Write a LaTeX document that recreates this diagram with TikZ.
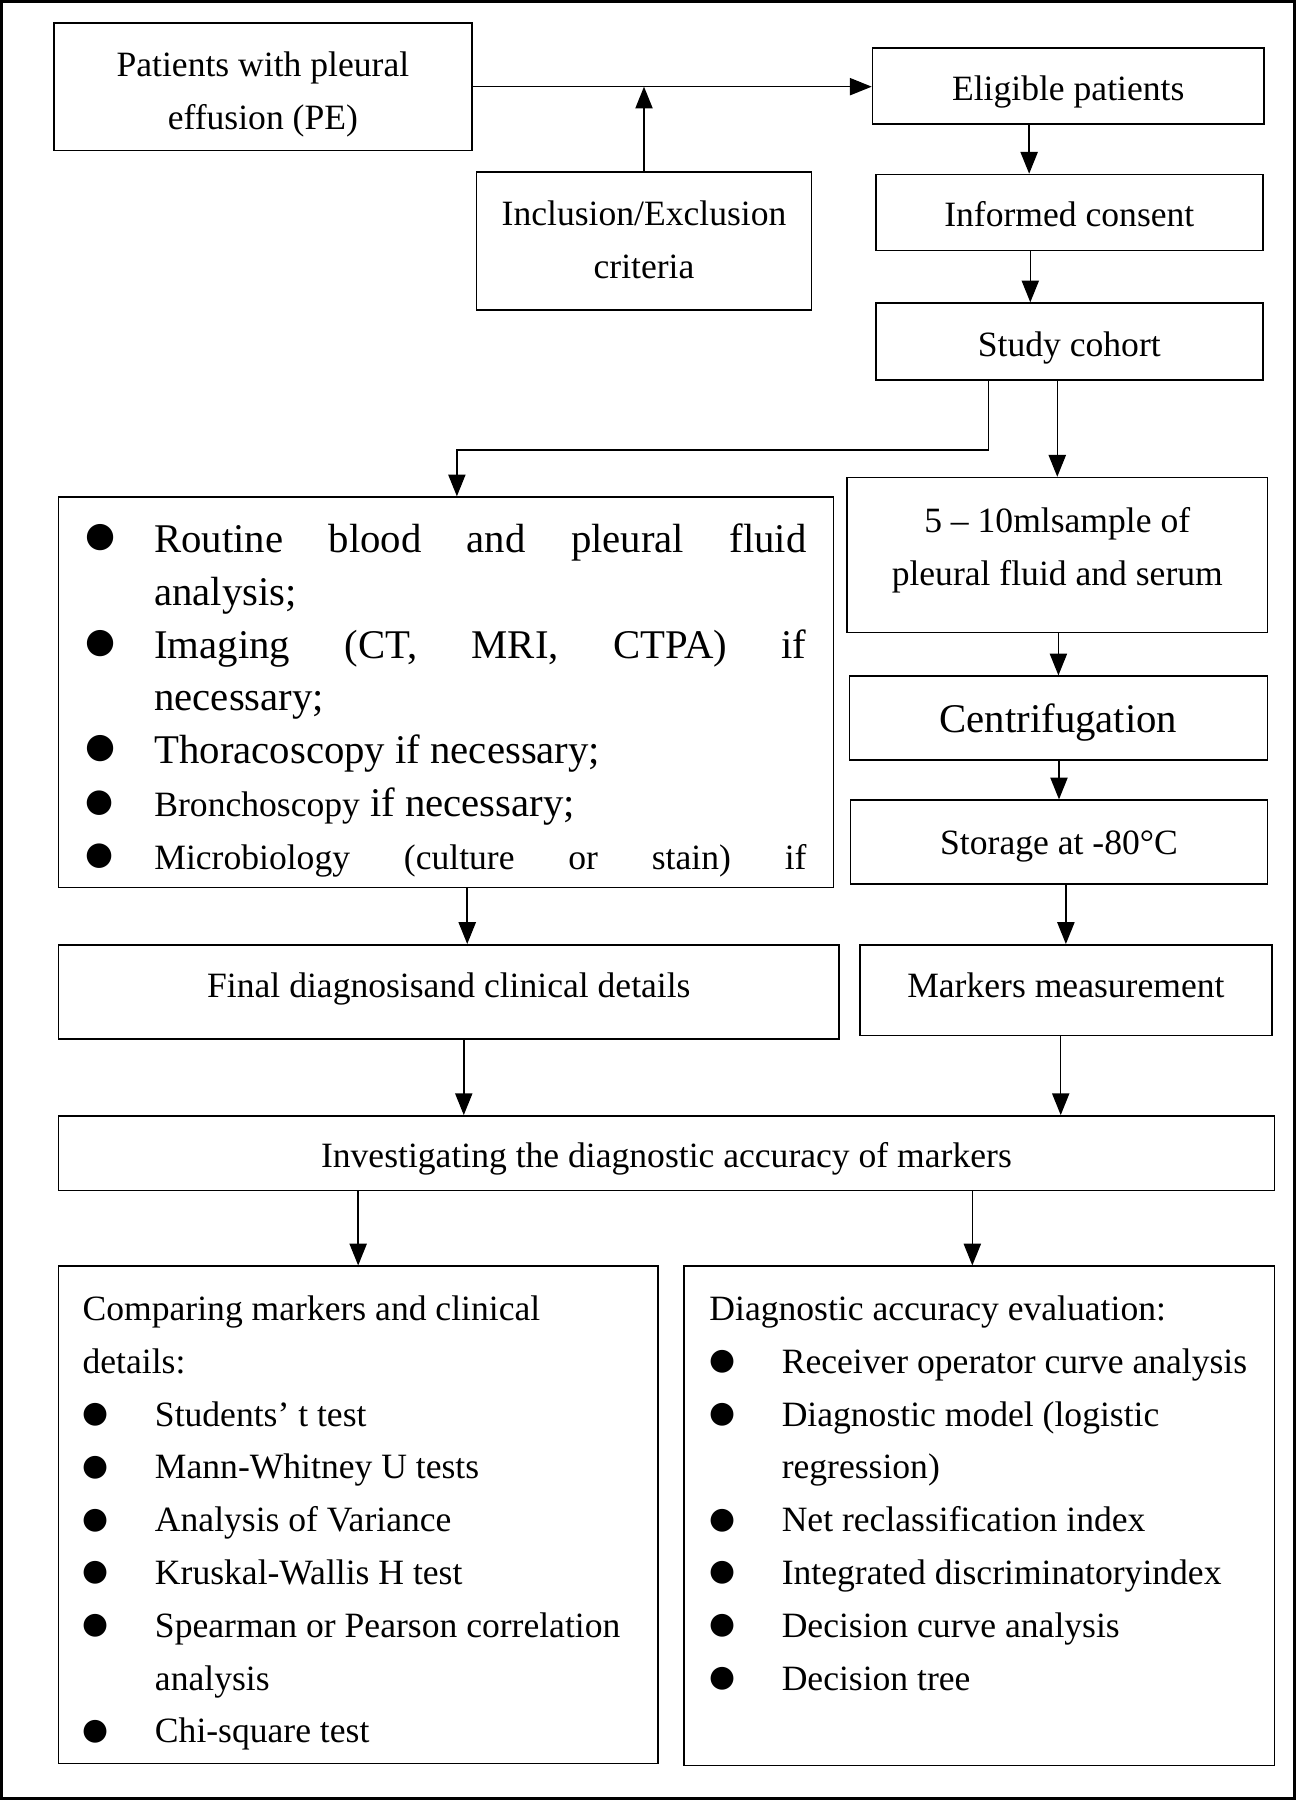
\documentclass[tikz,border=0pt]{standalone}
\usepackage{fontspec}
\setmainfont{Liberation Serif}
\newfontfamily\symfont{DejaVu Sans}
\usetikzlibrary{arrows.meta}
\newcommand{\normsz}{\fontsize{31}{46}\selectfont}
\newcommand{\bigsz}{\fontsize{35.5}{46}\selectfont}
\newcommand{\bulglyph}[2]{\raisebox{#2}{\symfont\fontsize{#1}{#1}\selectfont ●}}
\newcommand{\bitem}[4]{\par\noindent\hangindent=#1\hangafter=1\makebox[#1][l]{\bulglyph{#2}{#3}}\strut#4\par}
\begin{document}
\begin{tikzpicture}[x=1pt,y=-1pt,
  box/.style={draw, line width=1.3pt, inner sep=0pt},
  tb/.style={text height=30pt, text depth=#1},
  arr/.style={line width=1.3pt, -{Triangle[length=19pt,width=15pt]}},
  every node/.style={font=\normsz}]
\useasboundingbox (0,0) rectangle (1129,1568);
\draw[line width=2.6pt] (1.5,1.5) rectangle (1127.5,1566.5);

\node[box, minimum width=364pt, minimum height=111pt] (pat) at (229,75.5) {};
\node[align=center] (pattext) at (229,82) {Patients with pleural\\effusion (PE)};
\node[box, minimum width=341pt, minimum height=66pt, tb=5.4pt] (elig) at (930.5,75) {Eligible patients};
\node[box, minimum width=292pt, minimum height=120pt] (inc) at (561,210) {};
\node[align=center] (inctext) at (561,209) {Inclusion/Exclusion\\criteria};
\node[box, minimum width=337pt, minimum height=66pt, tb=5.4pt] (cons) at (931.5,185) {Informed consent};
\node[box, minimum width=337pt, minimum height=67pt, tb=4.4pt] (study) at (931.5,297.5) {Study cohort};

\node[box, minimum width=675pt, minimum height=340pt] (bl) at (388.5,603) {\parbox[c][308pt][t]{628pt}{\bigsz\frenchspacing\hyphenpenalty=10000\exhyphenpenalty=10000\tolerance=10000\spaceskip=8.875pt plus 60pt minus 2pt
\bitem{60pt}{30}{5pt}{Routine blood and pleural fluid analysis;}
\bitem{60pt}{30}{5pt}{\makebox[568pt][s]{Imaging (CT, MRI, CTPA) if}\newline necessary;}
\bitem{60pt}{30}{5pt}{Thoracoscopy if necessary;}
\bitem{60pt}{28}{4pt}{{\normsz Bronchoscopy} if necessary;}
\bitem{60pt}{28}{4pt}{\makebox[568pt][s]{\normsz Microbiology (culture or stain) if}}}};

\node[box, minimum width=366pt, minimum height=135pt] (sample) at (921,483.5) {};
\node[align=center] (sampletext) at (921,479.5) {5 – 10mlsample of\\pleural fluid and serum};
\node[box, minimum width=364pt, minimum height=73pt, font=\bigsz, tb=5.5pt] (centr) at (922,625.5) {Centrifugation};
\node[box, minimum width=363pt, minimum height=73pt, tb=8.4pt] (stor) at (922.5,733.5) {Storage at -80°C};
\node[box, minimum width=359pt, minimum height=79pt, tb=16.4pt] (mark) at (928.5,862.5) {Markers measurement};
\node[box, minimum width=680pt, minimum height=82pt, tb=19.4pt] (final) at (391,864) {Final diagnosisand clinical details};
\node[box, minimum width=1059pt, minimum height=65pt, tb=4.4pt] (inv) at (580.5,1004.5) {Investigating the diagnostic accuracy of markers};

\node[box, minimum width=522pt, minimum height=433pt] (bbl) at (312,1319.5) {\parbox[c][403pt][t]{480pt}{\normsz\raggedright\hyphenpenalty=10000
\noindent\strut Comparing markers and clinical details:\par
\bitem{63pt}{26}{3pt}{Students’ t test}
\bitem{63pt}{26}{3pt}{Mann-Whitney U tests}
\bitem{63pt}{26}{3pt}{Analysis of Variance}
\bitem{63pt}{26}{3pt}{Kruskal-Wallis H test}
\bitem{63pt}{26}{3pt}{Spearman or Pearson correlation analysis}
\bitem{63pt}{26}{3pt}{Chi-square test}}};

\node[box, minimum width=514pt, minimum height=435pt] (bbr) at (853,1320.5) {\hspace*{7pt}\parbox[c][405pt][t]{477pt}{\normsz\raggedright\hyphenpenalty=10000
\noindent\strut Diagnostic accuracy evaluation:\par
\bitem{63pt}{26}{3pt}{Receiver operator curve analysis}
\bitem{63pt}{26}{3pt}{Diagnostic model (logistic regression)}
\bitem{63pt}{26}{3pt}{Net reclassification index}
\bitem{63pt}{26}{3pt}{Integrated discriminatoryindex}
\bitem{63pt}{26}{3pt}{Decision curve analysis}
\bitem{63pt}{26}{3pt}{Decision tree}}};

\coordinate (j1) at (398,392);

\draw[arr] (pat.east) -- (pat.east -| elig.west);
\draw[arr] (inc.north) -- (inc.north |- pat.east);
\draw[arr] ([xshift=-34pt]elig.south) -- ([xshift=-34pt]elig.south |- cons.north);
\draw[arr] ([xshift=-34pt]cons.south) -- ([xshift=-34pt]cons.south |- study.north);
\draw[arr] ([xshift=-70.5pt]study.south) |- (j1) -- (j1 |- bl.north);
\draw[arr] (sample.north |- study.south) -- (sample.north);
\draw[arr] (centr.north |- sample.south) -- (centr.north);
\draw[arr] (stor.north |- centr.south) -- (stor.north);
\draw[arr] (mark.north |- stor.south) -- (mark.north);
\draw[arr] ([xshift=18.5pt]bl.south) -- ([xshift=18.5pt]bl.south |- final.north);
\draw[arr] ([xshift=13pt]final.south) -- ([xshift=13pt]final.south |- inv.north);
\draw[arr] ([xshift=-4.5pt]mark.south) -- ([xshift=-4.5pt]mark.south |- inv.north);
\draw[arr] (bbl.north |- inv.south) -- (bbl.north);
\draw[arr] ([xshift=-6pt]bbr.north |- inv.south) -- ([xshift=-6pt]bbr.north);
\end{tikzpicture}
\end{document}
